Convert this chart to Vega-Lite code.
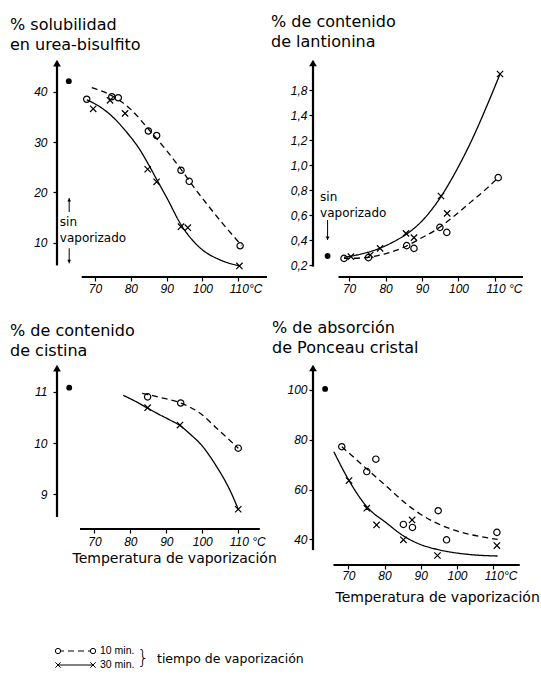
{
  "$schema": "https://vega.github.io/schema/vega-lite/v6.json",
  "background": "white",
  "padding": {"left": 10, "top": 14, "right": 0, "bottom": 0},
  "config": {
    "view": {"stroke": null},
    "font": "DejaVu Sans",
    "axis": {"domain": false, "grid": false, "ticks": true, "tickColor": "black", "tickWidth": 1.2, "tickSize": 4, "labelFont": "Liberation Sans", "labelFontStyle": "italic", "labelFontSize": 12, "labelColor": "black", "labelFlush": false, "labelOverlap": false, "titleFont": "DejaVu Sans", "titleFontWeight": "normal", "titleColor": "black", "titleFontSize": 14}
  },
  "datasets": {
    "puntos": [
      {"panel": "sol", "serie": "10 min.", "t": 67.7, "v": 38.5},
      {"panel": "sol", "serie": "10 min.", "t": 74.7, "v": 39.0},
      {"panel": "sol", "serie": "10 min.", "t": 76.5, "v": 38.8},
      {"panel": "sol", "serie": "10 min.", "t": 84.9, "v": 32.2},
      {"panel": "sol", "serie": "10 min.", "t": 87.2, "v": 31.3},
      {"panel": "sol", "serie": "10 min.", "t": 94.0, "v": 24.4},
      {"panel": "sol", "serie": "10 min.", "t": 96.3, "v": 22.2},
      {"panel": "sol", "serie": "10 min.", "t": 110.5, "v": 9.4},
      {"panel": "sol", "serie": "30 min.", "t": 69.5, "v": 36.6},
      {"panel": "sol", "serie": "30 min.", "t": 74.2, "v": 38.3},
      {"panel": "sol", "serie": "30 min.", "t": 78.4, "v": 35.7},
      {"panel": "sol", "serie": "30 min.", "t": 84.7, "v": 24.6},
      {"panel": "sol", "serie": "30 min.", "t": 87.2, "v": 22.1},
      {"panel": "sol", "serie": "30 min.", "t": 94.0, "v": 13.2},
      {"panel": "sol", "serie": "30 min.", "t": 95.9, "v": 13.0},
      {"panel": "sol", "serie": "30 min.", "t": 110.3, "v": 5.4},
      {"panel": "lan", "serie": "10 min.", "t": 68.6, "v": 0.253},
      {"panel": "lan", "serie": "10 min.", "t": 75.3, "v": 0.259},
      {"panel": "lan", "serie": "10 min.", "t": 85.8, "v": 0.355},
      {"panel": "lan", "serie": "10 min.", "t": 87.8, "v": 0.333},
      {"panel": "lan", "serie": "10 min.", "t": 94.9, "v": 0.501},
      {"panel": "lan", "serie": "10 min.", "t": 96.8, "v": 0.461},
      {"panel": "lan", "serie": "10 min.", "t": 110.9, "v": 0.899},
      {"panel": "lan", "serie": "30 min.", "t": 70.5, "v": 0.267},
      {"panel": "lan", "serie": "30 min.", "t": 75.8, "v": 0.28},
      {"panel": "lan", "serie": "30 min.", "t": 78.5, "v": 0.333},
      {"panel": "lan", "serie": "30 min.", "t": 85.6, "v": 0.453},
      {"panel": "lan", "serie": "30 min.", "t": 87.8, "v": 0.419},
      {"panel": "lan", "serie": "30 min.", "t": 95.2, "v": 0.752},
      {"panel": "lan", "serie": "30 min.", "t": 96.9, "v": 0.613},
      {"panel": "lan", "serie": "30 min.", "t": 111.4, "v": 1.728},
      {"panel": "cis", "serie": "10 min.", "t": 84.8, "v": 10.9},
      {"panel": "cis", "serie": "10 min.", "t": 94.0, "v": 10.78},
      {"panel": "cis", "serie": "10 min.", "t": 110.0, "v": 9.9},
      {"panel": "cis", "serie": "30 min.", "t": 84.8, "v": 10.69},
      {"panel": "cis", "serie": "30 min.", "t": 93.8, "v": 10.35},
      {"panel": "cis", "serie": "30 min.", "t": 110.0, "v": 8.71},
      {"panel": "pon", "serie": "10 min.", "t": 68.2, "v": 77.2},
      {"panel": "pon", "serie": "10 min.", "t": 75.1, "v": 67.2},
      {"panel": "pon", "serie": "10 min.", "t": 77.6, "v": 72.2},
      {"panel": "pon", "serie": "10 min.", "t": 85.2, "v": 46.0},
      {"panel": "pon", "serie": "10 min.", "t": 87.7, "v": 44.8},
      {"panel": "pon", "serie": "10 min.", "t": 94.8, "v": 51.5},
      {"panel": "pon", "serie": "10 min.", "t": 97.1, "v": 39.8},
      {"panel": "pon", "serie": "10 min.", "t": 111.0, "v": 42.8},
      {"panel": "pon", "serie": "30 min.", "t": 70.2, "v": 63.6},
      {"panel": "pon", "serie": "30 min.", "t": 75.1, "v": 52.5},
      {"panel": "pon", "serie": "30 min.", "t": 77.8, "v": 45.8},
      {"panel": "pon", "serie": "30 min.", "t": 85.2, "v": 39.8},
      {"panel": "pon", "serie": "30 min.", "t": 87.6, "v": 47.8},
      {"panel": "pon", "serie": "30 min.", "t": 94.6, "v": 33.5},
      {"panel": "pon", "serie": "30 min.", "t": 111.0, "v": 37.5}
    ],
    "curvas": [
      {"panel": "sol", "serie": "10 min.", "t": 69.1, "v": 40.8},
      {"panel": "sol", "serie": "10 min.", "t": 75.0, "v": 39.1},
      {"panel": "sol", "serie": "10 min.", "t": 80.0, "v": 36.5},
      {"panel": "sol", "serie": "10 min.", "t": 85.0, "v": 32.5},
      {"panel": "sol", "serie": "10 min.", "t": 90.0, "v": 28.3},
      {"panel": "sol", "serie": "10 min.", "t": 94.0, "v": 24.6},
      {"panel": "sol", "serie": "10 min.", "t": 96.5, "v": 22.1},
      {"panel": "sol", "serie": "10 min.", "t": 101.0, "v": 17.9},
      {"panel": "sol", "serie": "10 min.", "t": 106.0, "v": 13.5},
      {"panel": "sol", "serie": "10 min.", "t": 110.9, "v": 9.5},
      {"panel": "sol", "serie": "30 min.", "t": 67.7, "v": 38.4},
      {"panel": "sol", "serie": "30 min.", "t": 71.4, "v": 37.0},
      {"panel": "sol", "serie": "30 min.", "t": 75.1, "v": 34.9},
      {"panel": "sol", "serie": "30 min.", "t": 78.8, "v": 32.0},
      {"panel": "sol", "serie": "30 min.", "t": 82.6, "v": 28.4},
      {"panel": "sol", "serie": "30 min.", "t": 84.9, "v": 25.6},
      {"panel": "sol", "serie": "30 min.", "t": 87.2, "v": 22.6},
      {"panel": "sol", "serie": "30 min.", "t": 90.0, "v": 19.0},
      {"panel": "sol", "serie": "30 min.", "t": 94.0, "v": 13.6},
      {"panel": "sol", "serie": "30 min.", "t": 99.3, "v": 9.0},
      {"panel": "sol", "serie": "30 min.", "t": 104.9, "v": 6.6},
      {"panel": "sol", "serie": "30 min.", "t": 110.5, "v": 5.4},
      {"panel": "lan", "serie": "10 min.", "t": 68.6, "v": 0.253},
      {"panel": "lan", "serie": "10 min.", "t": 71.2, "v": 0.254},
      {"panel": "lan", "serie": "10 min.", "t": 75.8, "v": 0.264},
      {"panel": "lan", "serie": "10 min.", "t": 80.3, "v": 0.293},
      {"panel": "lan", "serie": "10 min.", "t": 84.9, "v": 0.341},
      {"panel": "lan", "serie": "10 min.", "t": 89.5, "v": 0.411},
      {"panel": "lan", "serie": "10 min.", "t": 94.0, "v": 0.485},
      {"panel": "lan", "serie": "10 min.", "t": 98.6, "v": 0.587},
      {"panel": "lan", "serie": "10 min.", "t": 103.2, "v": 0.699},
      {"panel": "lan", "serie": "10 min.", "t": 107.7, "v": 0.811},
      {"panel": "lan", "serie": "10 min.", "t": 110.9, "v": 0.899},
      {"panel": "lan", "serie": "30 min.", "t": 68.6, "v": 0.262},
      {"panel": "lan", "serie": "30 min.", "t": 72.1, "v": 0.28},
      {"panel": "lan", "serie": "30 min.", "t": 78.5, "v": 0.335},
      {"panel": "lan", "serie": "30 min.", "t": 83.1, "v": 0.4},
      {"panel": "lan", "serie": "30 min.", "t": 85.8, "v": 0.448},
      {"panel": "lan", "serie": "30 min.", "t": 90.4, "v": 0.565},
      {"panel": "lan", "serie": "30 min.", "t": 95.2, "v": 0.747},
      {"panel": "lan", "serie": "30 min.", "t": 99.5, "v": 0.96},
      {"panel": "lan", "serie": "30 min.", "t": 104.1, "v": 1.227},
      {"panel": "lan", "serie": "30 min.", "t": 107.7, "v": 1.467},
      {"panel": "lan", "serie": "30 min.", "t": 111.4, "v": 1.728},
      {"panel": "cis", "serie": "10 min.", "t": 83.3, "v": 10.97},
      {"panel": "cis", "serie": "10 min.", "t": 88.2, "v": 10.89},
      {"panel": "cis", "serie": "10 min.", "t": 94.0, "v": 10.78},
      {"panel": "cis", "serie": "10 min.", "t": 99.4, "v": 10.58},
      {"panel": "cis", "serie": "10 min.", "t": 104.0, "v": 10.29},
      {"panel": "cis", "serie": "10 min.", "t": 110.0, "v": 9.9},
      {"panel": "cis", "serie": "30 min.", "t": 78.0, "v": 10.93},
      {"panel": "cis", "serie": "30 min.", "t": 81.5, "v": 10.81},
      {"panel": "cis", "serie": "30 min.", "t": 84.8, "v": 10.68},
      {"panel": "cis", "serie": "30 min.", "t": 88.2, "v": 10.55},
      {"panel": "cis", "serie": "30 min.", "t": 91.0, "v": 10.45},
      {"panel": "cis", "serie": "30 min.", "t": 93.8, "v": 10.34},
      {"panel": "cis", "serie": "30 min.", "t": 97.0, "v": 10.15},
      {"panel": "cis", "serie": "30 min.", "t": 99.4, "v": 9.99},
      {"panel": "cis", "serie": "30 min.", "t": 104.0, "v": 9.54},
      {"panel": "cis", "serie": "30 min.", "t": 107.7, "v": 9.08},
      {"panel": "cis", "serie": "30 min.", "t": 110.0, "v": 8.71},
      {"panel": "pon", "serie": "10 min.", "t": 68.2, "v": 77.2},
      {"panel": "pon", "serie": "10 min.", "t": 72.3, "v": 71.9},
      {"panel": "pon", "serie": "10 min.", "t": 76.0, "v": 67.1},
      {"panel": "pon", "serie": "10 min.", "t": 80.6, "v": 61.2},
      {"panel": "pon", "serie": "10 min.", "t": 85.2, "v": 55.2},
      {"panel": "pon", "serie": "10 min.", "t": 89.8, "v": 50.2},
      {"panel": "pon", "serie": "10 min.", "t": 94.4, "v": 46.5},
      {"panel": "pon", "serie": "10 min.", "t": 99.0, "v": 43.8},
      {"panel": "pon", "serie": "10 min.", "t": 103.5, "v": 42.0},
      {"panel": "pon", "serie": "10 min.", "t": 111.2, "v": 40.0},
      {"panel": "pon", "serie": "30 min.", "t": 66.0, "v": 75.2},
      {"panel": "pon", "serie": "30 min.", "t": 70.2, "v": 63.6},
      {"panel": "pon", "serie": "30 min.", "t": 75.1, "v": 53.1},
      {"panel": "pon", "serie": "30 min.", "t": 80.6, "v": 46.5},
      {"panel": "pon", "serie": "30 min.", "t": 85.2, "v": 41.4},
      {"panel": "pon", "serie": "30 min.", "t": 89.8, "v": 38.0},
      {"panel": "pon", "serie": "30 min.", "t": 94.4, "v": 36.0},
      {"panel": "pon", "serie": "30 min.", "t": 99.0, "v": 34.7},
      {"panel": "pon", "serie": "30 min.", "t": 103.5, "v": 33.9},
      {"panel": "pon", "serie": "30 min.", "t": 111.2, "v": 33.3}
    ],
    "sinvapor": [
      {"panel": "sol", "t": 62.7, "v": 42.1},
      {"panel": "lan", "t": 64.1, "v": 0.272},
      {"panel": "cis", "t": 63.0, "v": 11.08},
      {"panel": "pon", "t": 63.6, "v": 100.4}
    ],
    "ejes": [
      {"panel": "sol", "t": 59.4, "t2": 59.4, "v": 5.5, "v2": 45.7},
      {"panel": "sol", "t": 66.3, "t2": 118, "v": 3.2, "v2": 3.2},
      {"panel": "lan", "t": 60.1, "t2": 60.1, "v": 0.187, "v2": 1.816},
      {"panel": "lan", "t": 67.1, "t2": 117.7, "v": 0.104, "v2": 0.104},
      {"panel": "cis", "t": 59.6, "t2": 59.6, "v": 8.56, "v2": 11.46},
      {"panel": "cis", "t": 66.0, "t2": 116.0, "v": 8.325, "v2": 8.325},
      {"panel": "pon", "t": 60.26, "t2": 60.26, "v": 35.7, "v2": 108.8},
      {"panel": "pon", "t": 65.9, "t2": 117.3, "v": 29.7, "v2": 29.7}
    ],
    "puntas": [
      {"panel": "sol", "tipo": "eje", "dir": "up", "t": 59.4, "v": 45.7},
      {"panel": "lan", "tipo": "eje", "dir": "up", "t": 60.1, "v": 1.816},
      {"panel": "cis", "tipo": "eje", "dir": "up", "t": 59.6, "v": 11.46},
      {"panel": "pon", "tipo": "eje", "dir": "up", "t": 60.26, "v": 108.8},
      {"panel": "sol", "tipo": "nota", "dir": "up", "t": 62.8, "v": 18.5},
      {"panel": "sol", "tipo": "nota", "dir": "down", "t": 62.8, "v": 6.3},
      {"panel": "lan", "tipo": "nota", "dir": "down", "t": 64.1, "v": 0.415}
    ],
    "flechas": [
      {"panel": "sol", "t": 62.8, "v": 18.9, "v2": 16.1},
      {"panel": "sol", "t": 62.8, "v": 8.9, "v2": 5.9},
      {"panel": "lan", "t": 64.1, "v": 0.56, "v2": 0.4}
    ],
    "notas": [
      {"panel": "sol", "t": 60.2, "v": 14.1, "texto": "sin"},
      {"panel": "sol", "t": 60.2, "v": 10.9, "texto": "vaporizado"},
      {"panel": "lan", "t": 62.05, "v": 0.744, "texto": "sin"},
      {"panel": "lan", "t": 62.05, "v": 0.616, "texto": "vaporizado"}
    ],
    "leyenda": [
      {"serie": "10 min.", "extremo": "a"},
      {"serie": "10 min.", "extremo": "b"},
      {"serie": "30 min.", "extremo": "a"},
      {"serie": "30 min.", "extremo": "b"}
    ]
  },
  "columns": 2,
  "spacing": {"row": 86, "column": 46},
  "bounds": "flush",
  "align": "each",
  "concat": [
    {
      "width": 210,
      "height": 219,
      "title": {"text": ["% solubilidad", "en urea-bisulfito"], "anchor": "start", "frame": "group", "dx": -47, "offset": -11, "font": "DejaVu Sans", "fontSize": 16, "fontWeight": "normal", "color": "black", "lineHeight": 20, "baseline": "bottom"},
      "encoding": {
        "x": {"field": "t", "type": "quantitative", "scale": {"domain": [59.4, 118], "nice": false, "zero": false}, "axis": {"title": null, "values": [70, 80, 90, 100, 110], "labelPadding": 2, "labelExpr": "datum.value == 110 ? '110°C' : datum.label", "labelAlign": {"condition": {"test": "datum.value == 110", "value": "left"}, "value": "center"}, "labelOffset": {"condition": {"test": "datum.value == 110", "value": -9}, "value": 0}}},
        "y": {"field": "v", "type": "quantitative", "scale": {"domain": [3.2, 46.7], "nice": false, "zero": false}, "axis": {"title": null, "values": [10, 20, 30, 40], "labelPadding": 6}}
      },
      "layer": [
        {"data": {"name": "ejes"}, "transform": [{"filter": "datum.panel === 'sol'"}], "mark": {"type": "rule", "color": "black", "strokeWidth": 2.2}, "encoding": {"x2": {"field": "t2"}, "y2": {"field": "v2"}}},
        {"data": {"name": "puntas"}, "transform": [{"filter": "datum.panel === 'sol' && datum.tipo === 'eje'"}], "mark": {"type": "point", "shape": "triangle-up", "filled": true, "size": 60, "color": "black", "opacity": 1}},
        {"data": {"name": "puntas"}, "transform": [{"filter": "datum.panel === 'sol' && datum.tipo === 'nota' && datum.dir === 'up'"}], "mark": {"type": "point", "shape": "triangle-up", "filled": true, "size": 14, "color": "black", "opacity": 1}},
        {"data": {"name": "puntas"}, "transform": [{"filter": "datum.panel === 'sol' && datum.tipo === 'nota' && datum.dir === 'down'"}], "mark": {"type": "point", "shape": "triangle-down", "filled": true, "size": 14, "color": "black", "opacity": 1}},
        {"data": {"name": "flechas"}, "transform": [{"filter": "datum.panel === 'sol'"}], "mark": {"type": "rule", "color": "black", "strokeWidth": 1}, "encoding": {"y2": {"field": "v2"}}},
        {"data": {"name": "notas"}, "transform": [{"filter": "datum.panel === 'sol'"}], "mark": {"type": "text", "align": "left", "baseline": "middle", "font": "DejaVu Sans", "fontSize": 12, "color": "black"}, "encoding": {"text": {"field": "texto"}}},
        {"data": {"name": "curvas"}, "transform": [{"filter": "datum.panel === 'sol'"}], "mark": {"type": "line", "interpolate": "monotone", "color": "black", "strokeWidth": 1.3}, "encoding": {"strokeDash": {"field": "serie", "type": "nominal", "scale": {"domain": ["10 min.", "30 min."], "range": [[6, 4], [1, 0]]}, "legend": null}}},
        {"data": {"name": "sinvapor"}, "transform": [{"filter": "datum.panel === 'sol'"}], "mark": {"type": "point", "shape": "circle", "filled": true, "size": 34, "color": "black", "opacity": 1}},
        {"data": {"name": "puntos"}, "transform": [{"filter": "datum.panel === 'sol'"}], "mark": {"type": "point", "filled": false, "size": 40, "strokeWidth": 1.2, "color": "black", "opacity": 1},
          "encoding": {"shape": {"field": "serie", "type": "nominal", "scale": {"domain": ["10 min.", "30 min."], "range": ["circle", "M-1,-1L1,1M-1,1L1,-1"]}, "legend": null}}}
      ]
    },
    {
      "width": 210,
      "height": 219,
      "title": {"text": ["% de contenido", "de lantionina"], "anchor": "start", "frame": "group", "dx": -42, "offset": -8, "font": "DejaVu Sans", "fontSize": 16, "fontWeight": "normal", "color": "black", "lineHeight": 20, "baseline": "bottom"},
      "encoding": {
        "x": {"field": "t", "type": "quantitative", "scale": {"domain": [60.1, 117.7], "nice": false, "zero": false}, "axis": {"title": null, "values": [70, 80, 90, 100, 110], "labelPadding": 2, "labelExpr": "datum.value == 110 ? '110 °C' : datum.label", "labelAlign": {"condition": {"test": "datum.value == 110", "value": "left"}, "value": "center"}, "labelOffset": {"condition": {"test": "datum.value == 110", "value": -9}, "value": 0}}},
        "y": {"field": "v", "type": "quantitative", "scale": {"domain": [0.104, 1.856], "nice": false, "zero": false}, "axis": {"title": null, "values": [0.2, 0.4, 0.6, 0.8, 1.0, 1.2, 1.4, 1.6], "labelPadding": 2, "labelExpr": "abs(datum.value - 1.6) < 0.01 ? '1,8' : replace(format(datum.value, '.1f'), '.', ',')"}}
      },
      "layer": [
        {"data": {"name": "ejes"}, "transform": [{"filter": "datum.panel === 'lan'"}], "mark": {"type": "rule", "color": "black", "strokeWidth": 2.2}, "encoding": {"x2": {"field": "t2"}, "y2": {"field": "v2"}}},
        {"data": {"name": "puntas"}, "transform": [{"filter": "datum.panel === 'lan' && datum.tipo === 'eje'"}], "mark": {"type": "point", "shape": "triangle-up", "filled": true, "size": 60, "color": "black", "opacity": 1}},
        {"data": {"name": "puntas"}, "transform": [{"filter": "datum.panel === 'lan' && datum.tipo === 'nota' && datum.dir === 'down'"}], "mark": {"type": "point", "shape": "triangle-down", "filled": true, "size": 16, "color": "black", "opacity": 1}},
        {"data": {"name": "flechas"}, "transform": [{"filter": "datum.panel === 'lan'"}], "mark": {"type": "rule", "color": "black", "strokeWidth": 1}, "encoding": {"y2": {"field": "v2"}}},
        {"data": {"name": "notas"}, "transform": [{"filter": "datum.panel === 'lan'"}], "mark": {"type": "text", "align": "left", "baseline": "middle", "font": "DejaVu Sans", "fontSize": 12, "color": "black"}, "encoding": {"text": {"field": "texto"}}},
        {"data": {"name": "curvas"}, "transform": [{"filter": "datum.panel === 'lan'"}], "mark": {"type": "line", "interpolate": "monotone", "color": "black", "strokeWidth": 1.3}, "encoding": {"strokeDash": {"field": "serie", "type": "nominal", "scale": {"domain": ["10 min.", "30 min."], "range": [[6, 4], [1, 0]]}, "legend": null}}},
        {"data": {"name": "sinvapor"}, "transform": [{"filter": "datum.panel === 'lan'"}], "mark": {"type": "point", "shape": "circle", "filled": true, "size": 34, "color": "black", "opacity": 1}},
        {"data": {"name": "puntos"}, "transform": [{"filter": "datum.panel === 'lan'"}], "mark": {"type": "point", "filled": false, "size": 40, "strokeWidth": 1.2, "color": "black", "opacity": 1},
          "encoding": {"shape": {"field": "serie", "type": "nominal", "scale": {"domain": ["10 min.", "30 min."], "range": ["circle", "M-1,-1L1,1M-1,1L1,-1"]}, "legend": null}}}
      ]
    },
    {
      "width": 210,
      "height": 166,
      "title": {"text": ["% de contenido", "de cistina"], "anchor": "start", "frame": "group", "dx": -47, "offset": -12, "font": "DejaVu Sans", "fontSize": 16, "fontWeight": "normal", "color": "black", "lineHeight": 20, "baseline": "bottom"},
      "encoding": {
        "x": {"field": "t", "type": "quantitative", "scale": {"domain": [59.6, 118], "nice": false, "zero": false}, "axis": {"title": "Temperatura de vaporización", "titleX": 15, "titleY": 29, "titleAlign": "left", "titleAnchor": "start", "titleBaseline": "middle", "values": [70, 80, 90, 100, 110], "labelPadding": 3, "labelExpr": "datum.value == 110 ? '110 °C' : datum.label", "labelAlign": {"condition": {"test": "datum.value == 110", "value": "left"}, "value": "center"}, "labelOffset": {"condition": {"test": "datum.value == 110", "value": -9}, "value": 0}}},
        "y": {"field": "v", "type": "quantitative", "scale": {"domain": [8.325, 11.56], "nice": false, "zero": false}, "axis": {"title": null, "values": [9, 10, 11], "labelPadding": 6}}
      },
      "layer": [
        {"data": {"name": "ejes"}, "transform": [{"filter": "datum.panel === 'cis'"}], "mark": {"type": "rule", "color": "black", "strokeWidth": 2.2}, "encoding": {"x2": {"field": "t2"}, "y2": {"field": "v2"}}},
        {"data": {"name": "puntas"}, "transform": [{"filter": "datum.panel === 'cis' && datum.tipo === 'eje'"}], "mark": {"type": "point", "shape": "triangle-up", "filled": true, "size": 60, "color": "black", "opacity": 1}},
        {"data": {"name": "curvas"}, "transform": [{"filter": "datum.panel === 'cis'"}], "mark": {"type": "line", "interpolate": "monotone", "color": "black", "strokeWidth": 1.3}, "encoding": {"strokeDash": {"field": "serie", "type": "nominal", "scale": {"domain": ["10 min.", "30 min."], "range": [[6, 4], [1, 0]]}, "legend": null}}},
        {"data": {"name": "sinvapor"}, "transform": [{"filter": "datum.panel === 'cis'"}], "mark": {"type": "point", "shape": "circle", "filled": true, "size": 34, "color": "black", "opacity": 1}},
        {"data": {"name": "puntos"}, "transform": [{"filter": "datum.panel === 'cis'"}], "mark": {"type": "point", "filled": false, "size": 40, "strokeWidth": 1.2, "color": "black", "opacity": 1},
          "encoding": {"shape": {"field": "serie", "type": "nominal", "scale": {"domain": ["10 min.", "30 min."], "range": ["circle", "M-1,-1L1,1M-1,1L1,-1"]}, "legend": null}}}
      ]
    },
    {
      "width": 210,
      "height": 202,
      "title": {"text": ["% de absorción", "de Ponceau cristal"], "anchor": "start", "frame": "group", "dx": -41, "offset": -9, "font": "DejaVu Sans", "fontSize": 16, "fontWeight": "normal", "color": "black", "lineHeight": 20, "baseline": "bottom"},
      "encoding": {
        "x": {"field": "t", "type": "quantitative", "scale": {"domain": [60.26, 118.2], "nice": false, "zero": false}, "axis": {"title": "Temperatura de vaporización", "titleX": 22, "titleY": 32, "titleAlign": "left", "titleAnchor": "start", "titleBaseline": "middle", "values": [70, 80, 90, 100, 110], "labelPadding": 1, "labelExpr": "datum.value == 110 ? '110°C' : datum.label", "labelAlign": {"condition": {"test": "datum.value == 110", "value": "left"}, "value": "center"}, "labelOffset": {"condition": {"test": "datum.value == 110", "value": -9}, "value": 0}}},
        "y": {"field": "v", "type": "quantitative", "scale": {"domain": [29.7, 110.8], "nice": false, "zero": false}, "axis": {"title": null, "values": [40, 60, 80, 100], "labelPadding": 2}}
      },
      "layer": [
        {"data": {"name": "ejes"}, "transform": [{"filter": "datum.panel === 'pon'"}], "mark": {"type": "rule", "color": "black", "strokeWidth": 2.2}, "encoding": {"x2": {"field": "t2"}, "y2": {"field": "v2"}}},
        {"data": {"name": "puntas"}, "transform": [{"filter": "datum.panel === 'pon' && datum.tipo === 'eje'"}], "mark": {"type": "point", "shape": "triangle-up", "filled": true, "size": 60, "color": "black", "opacity": 1}},
        {"data": {"name": "curvas"}, "transform": [{"filter": "datum.panel === 'pon'"}], "mark": {"type": "line", "interpolate": "monotone", "color": "black", "strokeWidth": 1.3}, "encoding": {"strokeDash": {"field": "serie", "type": "nominal", "scale": {"domain": ["10 min.", "30 min."], "range": [[6, 4], [1, 0]]}, "legend": null}}},
        {"data": {"name": "sinvapor"}, "transform": [{"filter": "datum.panel === 'pon'"}], "mark": {"type": "point", "shape": "circle", "filled": true, "size": 34, "color": "black", "opacity": 1}},
        {"data": {"name": "puntos"}, "transform": [{"filter": "datum.panel === 'pon'"}], "mark": {"type": "point", "filled": false, "size": 40, "strokeWidth": 1.2, "color": "black", "opacity": 1},
          "encoding": {"shape": {"field": "serie", "type": "nominal", "scale": {"domain": ["10 min.", "30 min."], "range": ["circle", "M-1,-1L1,1M-1,1L1,-1"]}, "legend": null}}}
      ]
    },
    {
      "width": 210,
      "height": 14,
      "data": {"name": "leyenda"},
      "encoding": {
        "x": {"field": "extremo", "type": "nominal", "scale": {"type": "point", "domain": ["a", "b"], "range": [1, 36], "padding": 0}, "axis": null},
        "y": {"field": "serie", "type": "nominal", "scale": {"type": "point", "domain": ["10 min.", "30 min."], "padding": 0}, "axis": null}
      },
      "layer": [
        {"mark": {"type": "line", "color": "black", "strokeWidth": 1}, "encoding": {"detail": {"field": "serie"}, "strokeDash": {"field": "serie", "type": "nominal", "scale": {"domain": ["10 min.", "30 min."], "range": [[4, 3], [1, 0]]}, "legend": null}}},
        {"mark": {"type": "point", "filled": true, "fill": "white", "stroke": "black", "strokeWidth": 1, "size": 28, "opacity": 1}, "encoding": {"shape": {"field": "serie", "type": "nominal", "scale": {"domain": ["10 min.", "30 min."], "range": ["circle", "M-1,-1L1,1M-1,1L1,-1"]}, "legend": null}}},
        {"transform": [{"filter": "datum.extremo === 'b'"}], "mark": {"type": "text", "align": "left", "baseline": "middle", "dx": 7, "font": "Liberation Sans", "fontSize": 10.5, "color": "black"}, "encoding": {"text": {"field": "serie"}}},
        {"transform": [{"filter": "datum.extremo === 'b' && datum.serie === '10 min.'"}], "mark": {"type": "text", "align": "left", "baseline": "middle", "dx": 44, "dy": 7, "font": "DejaVu Sans", "fontSize": 19, "fontWeight": 200, "color": "black"}, "encoding": {"text": {"value": "}"}}},
        {"transform": [{"filter": "datum.extremo === 'b' && datum.serie === '10 min.'"}], "mark": {"type": "text", "align": "left", "baseline": "middle", "dx": 64, "dy": 8, "font": "DejaVu Sans", "fontSize": 12.5, "color": "black"}, "encoding": {"text": {"value": "tiempo de vaporización"}}}
      ]
    }
  ]
}
